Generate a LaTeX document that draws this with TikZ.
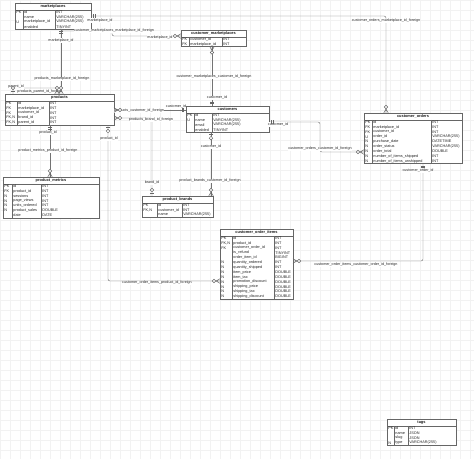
\documentclass[tikz,border=0pt]{standalone}
\usepackage{fontspec}
\setmainfont{Liberation Sans}
\tikzset{
  tblbox/.style={draw=black!60, line width=0.4pt, fill=white, inner sep=0pt, outer sep=0pt, rectangle},
  tline/.style={draw=black!60, line width=0.4pt},
  ttl/.style={font=\fontsize{3.9}{4.5}\selectfont\bfseries, inner sep=0pt, text=black!90},
  cell/.style={font=\fontsize{3.8}{4.3}\selectfont, inner sep=0pt, anchor=west, text=black!85},
  lbl/.style={font=\fontsize{3.7}{4.2}\selectfont, inner sep=0.3pt, fill=white, text=black!85},
  conn/.style={draw=black!55, line width=0.45pt, rounded corners=2pt},
  mkline/.style={draw=black!60, line width=0.45pt},
  gridline/.style={draw=black!5, line width=0.3pt},
}
\newcommand\ertable[9]{%
  \pgfmathsetmacro\tabh{6.8+#5*4.85}%
  \node[tblbox, anchor=north west, minimum width=#4pt, minimum height=\tabh pt] (#1) at (#2,#3) {};
  \node[ttl] at ({#2+#4/2},{#3+3.5}) {#8};
  \draw[tline] (#2,{#3+6.8}) -- ({#2+#4},{#3+6.8});
  \draw[tline] (#6,{#3+6.8}) -- (#6,{#3+\tabh});
  \draw[tline] (#7,{#3+6.8}) -- (#7,{#3+\tabh});
  \foreach \ka/\na/\ta [count=\ri] in {#9}{%
    \node[cell] at ({#2+1.2},{#3+6.8+(\ri-0.5)*4.85}) {\ka};
    \node[cell] at ({#6+1.2},{#3+6.8+(\ri-0.5)*4.85}) {\na};
    \node[cell] at ({#7+1.2},{#3+6.8+(\ri-0.5)*4.85}) {\ta};
  }%
}
\newcommand\mOne[2]{\begin{scope}[shift={(#1)},rotate=#2]\draw[mkline] (2.5,-2)--(2.5,2) (4,-2)--(4,2);\end{scope}}
\newcommand\zOne[2]{\begin{scope}[shift={(#1)},rotate=#2]\draw[mkline] (2.5,-2)--(2.5,2);\draw[mkline,fill=white] (6,0) circle[radius=1.8pt];\end{scope}}
\newcommand\zMany[2]{\begin{scope}[shift={(#1)},rotate=#2]\draw[mkline] (0,-2.3)--(4,0)--(0,2.3) (0,0)--(4,0);\draw[mkline,fill=white] (6,0) circle[radius=1.8pt];\end{scope}}
\begin{document}
\begin{tikzpicture}[x=1pt,y=-1pt]
\useasboundingbox (0,0) rectangle (474,459);
\fill[white] (0,0) rectangle (474,459);
\draw[gridline] (0,459) grid[step=10pt] (474,0);

% tables
\ertable{mk}{15}{3}{76}{4}{23}{55}{marketplaces}{PK/id/INT, {}/name/VARCHAR(255), U/marketplace\_id/VARCHAR(255), {}/enabled/TINYINT}
\ertable{cm}{181}{30}{65}{2}{189}{222}{customer\_marketplaces}{FK/customer\_id/INT, FK/marketplace\_id/INT}
\ertable{pr}{5}{94}{109}{5}{17}{49}{products}{PK/id/INT, FK/marketplace\_id/INT, FK/customer\_id/INT, {FK,N}/brand\_id/INT, {FK,N}/parent\_id/INT}
\ertable{cu}{186}{106}{83}{4}{194}{212}{customers}{PK/id/INT, U/name/VARCHAR(255), {}/email/VARCHAR(255), {}/enabled/TINYINT}
\ertable{co}{364}{113}{98}{9}{372}{431}{customer\_orders}{PK/id/INT, FK/marketplace\_id/INT, FK/customer\_id/INT, U/order\_id/VARCHAR(255), N/purchase\_date/DATETIME, N/order\_status/VARCHAR(255), N/order\_total/DOUBLE, N/number\_of\_items\_shipped/INT, N/number\_of\_items\_unshipped/INT}
\ertable{pm}{3}{177}{96}{7}{12}{41}{product\_metrics}{PK/id/INT, FK/product\_id/INT, N/sessions/INT, N/page\_views/INT, N/units\_ordered/INT, N/product\_sales/DOUBLE, {}/date/DATE}
\ertable{pb}{142}{196}{71}{3}{157}{182}{product\_brands}{PK/id/INT, {FK,N}/customer\_id/INT, {}/name/VARCHAR(255)}
\ertable{coi}{220}{229}{73}{13}{232}{274}{customer\_order\_items}{PK/id/INT, {FK,N}/product\_id/INT, FK/customer\_order\_id/INT, {}/is\_refund/TINYINT, {}/order\_item\_id/BIGINT, N/quantity\_ordered/INT, N/quantity\_shipped/INT, N/item\_price/DOUBLE, N/item\_tax/DOUBLE, N/promotion\_discount/DOUBLE, N/shipping\_price/DOUBLE, N/shipping\_tax/DOUBLE, N/shipping\_discount/DOUBLE}
\ertable{tg}{387}{419}{69}{4}{394}{408}{tags}{PK/id/INT, {}/name/JSON, {}/slug/JSON, N/type/VARCHAR(255)}

% connector end points
\coordinate (c1s) at (mk.east |- 0,16);
\coordinate (c1e) at (co.north -| 386,0);
\coordinate (c2s) at (mk.south -| 61,0);
\coordinate (c2e) at (cm.west |- 0,36);
\coordinate (c3s) at (mk.south -| 61,0);
\coordinate (c3e) at (pr.north -| 61,0);
\coordinate (c4s) at (pr.north -| 13,0);
\coordinate (c4e) at (pr.north -| 57,0);
\coordinate (c5s) at (cu.west |- 0,110);
\coordinate (c5e) at (pr.east |- 0,110);
\coordinate (c6s) at (pb.north -| 152,0);
\coordinate (c6e) at (pr.east |- 0,118);
\coordinate (c7s) at (pr.south -| 50,0);
\coordinate (c7e) at (pm.north -| 50,0);
\coordinate (c8s) at (pr.south -| 108,0);
\coordinate (c8e) at (coi.west |- 0,281);
\coordinate (c9s) at (cu.north -| 212,0);
\coordinate (c9e) at (cm.south -| 212,0);
\coordinate (c10s) at (cu.south -| 211,0);
\coordinate (c10e) at (pb.north -| 211,0);
\coordinate (c11s) at (cu.east |- 0,122);
\coordinate (c11e) at (co.west |- 0,152);
\coordinate (c12s) at (co.south -| 423,0);
\coordinate (c12e) at (coi.east |- 0,261);

% connectors
\draw[conn] (c1s) -| (c1e);
\draw[conn] (c2s) |- (112,31) |- (c2e);
\draw[conn] (c3s) -- (c3e);
\draw[conn] (c4s) -- ++(0,-6) -| (c4e);
\draw[conn] (c5s) -- (c5e);
\draw[conn] (c6s) |- (c6e);
\draw[conn] (c7s) -- (c7e);
\draw[conn] (c8s) |- (c8e);
\draw[conn] (c9s) -- (c9e);
\draw[conn] (c10s) -- (c10e);
\draw[conn] (c11s) -| (320,137) |- (c11e);
\draw[conn] (c12s) |- (c12e);

% labels
\node[lbl] (l1a) at (100,20.5) {marketplace\_id};
\node[lbl] (l1b) at (386,21) {customer\_orders\_marketplace\_id\_foreign};
\node[lbl] (l2a) at (114,31) {customer\_marketplaces\_marketplace\_id\_foreign};
\node[lbl] (l2b) at (160,37.5) {marketplace\_id};
\node[lbl] (l3a) at (61,40.5) {marketplace\_id};
\node[lbl] (l3b) at (62,79) {products\_marketplace\_id\_foreign};
\node[lbl] (l4a) at (16,87) {parent\_id};
\node[lbl] (l4b) at (40,92) {products\_parent\_id\_foreign};
\node[lbl] (l5a) at (139,111) {products\_customer\_id\_foreign};
\node[lbl] (l5b) at (176,106.5) {customer\_id};
\node[lbl] (l6a) at (151,120) {products\_brand\_id\_foreign};
\node[lbl] (l6b) at (152,183) {brand\_id};
\node[lbl] (l7a) at (48,133) {product\_id};
\node[lbl] (l7b) at (48,151) {product\_metrics\_product\_id\_foreign};
\node[lbl] (l8a) at (109,139) {product\_id};
\node[lbl] (l8b) at (157,283) {customer\_order\_items\_product\_id\_foreign};
\node[lbl] (l9a) at (214,77) {customer\_marketplaces\_customer\_id\_foreign};
\node[lbl] (l9b) at (217,98) {customer\_id};
\node[lbl] (l10a) at (211,147) {customer\_id};
\node[lbl] (l10b) at (210,181) {product\_brands\_customer\_id\_foreign};
\node[lbl] (l11a) at (278,124.5) {customer\_id};
\node[lbl] (l11b) at (320,149) {customer\_orders\_customer\_id\_foreign};
\node[lbl] (l12a) at (418,171) {customer\_order\_id};
\node[lbl] (l12b) at (356,265) {customer\_order\_items\_customer\_order\_id\_foreign};

% markers
\mOne{c1s}{0}   \zMany{c1e}{90}
\zMany{c2e}{180}
\mOne{c3s}{-90} \zMany{c3e}{90}
\zOne{c4s}{90}  \zMany{c4e}{90}
\mOne{c5s}{180} \zMany{c5e}{0}
\zOne{c6s}{90}  \zMany{c6e}{0}
\mOne{c7s}{-90} \zMany{c7e}{90}
\zOne{c8s}{-90} \zMany{c8e}{180}
\mOne{c9s}{90}  \zMany{c9e}{-90}
\zOne{c10s}{-90} \zMany{c10e}{90}
\mOne{c11s}{0}  \zMany{c11e}{180}
\mOne{c12s}{-90} \zMany{c12e}{0}
\end{tikzpicture}
\end{document}
